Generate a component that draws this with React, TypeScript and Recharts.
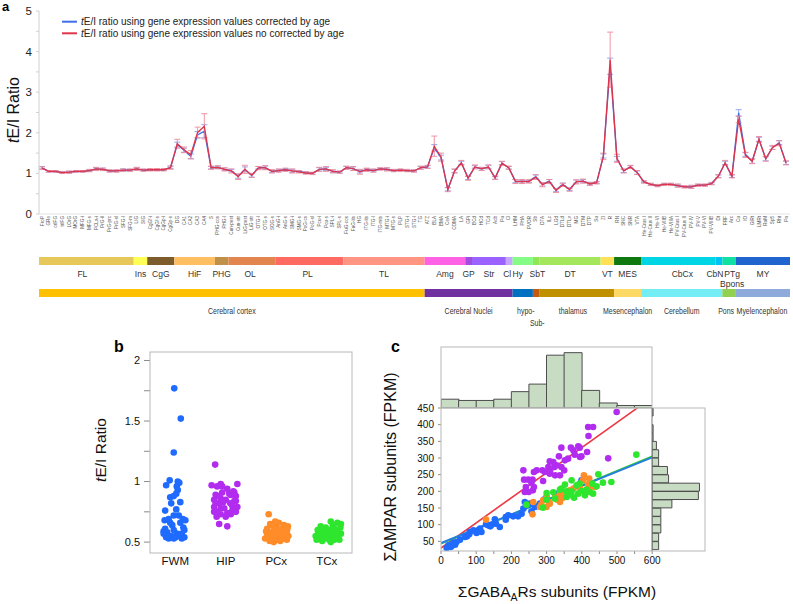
import React from "react";
import {
  LineChart,
  Line,
  XAxis,
  YAxis,
  ErrorBar,
  ScatterChart,
  Scatter,
  BarChart,
  Bar,
  LabelList,
  ReferenceLine,
} from "recharts";

// ---- panel a: tE/I ratio per brain region ----
const regions = [
  "FroP", "GRe", "orIFG", "trIFG", "LOrG", "MOrG", "MFG-i", "MFG-s", "PCLa-i", "PrG-il",
  "PrG-prc", "PrG-sl", "SFG-l", "SFG-m", "LIG", "SIG", "CgGf-i", "CgGf-s", "CgGp-i", "CgGp-s",
  "DG", "CA1", "CA2", "CA3", "CA4", "S", "PHG-cos", "PHG-l", "Cun-pest", "Cun-str",
  "LiG-pest", "LiG-str", "OTG-l", "OTG-s", "SOG-s", "AnG-i", "AnG-s", "SMG-i", "SMG-s", "PoG-cs",
  "PoG-sl", "Pcu-i", "Pcu-s", "SPL-i", "SPL-s", "FuG-cos", "FuG-its", "HG", "ITG-its", "ITG-l",
  "ITG-mts", "MTG-i", "MTG-s", "PLP", "STG-i", "STG-l", "TG", "ATZ", "BLA", "BMA",
  "CeA", "COMA", "LA", "GPi", "BCd", "HCd", "TCd", "Acb", "Pu", "Cl",
  "LHM", "PHA", "PVOR", "Sb", "DTA", "ILc", "LGd", "DTLd", "DTLv", "MG",
  "DTM", "DTP", "Su", "ZI", "R", "RN", "SNC", "SNR", "VTA", "He-Crus I",
  "He-Crus II", "He-VI", "He-VIIB", "He-VIIIA", "PV-Crus I", "PV-Crus II", "PV-IV", "PV-V", "PV-VI", "PV-VIIIB",
  "Dt", "PRF", "Arc", "Cu", "IO", "GiRt", "LMRt", "RaM", "Sp5", "Rht",
  "Pn",
];

const ratioCorrected = [
  1.14, 1.05, 1.05, 1.02, 1.03, 1.05, 1.05, 1.07, 1.11, 1.10,
  1.06, 1.06, 1.08, 1.08, 1.11, 1.08, 1.09, 1.09, 1.09, 1.15,
  1.71, 1.57, 1.42, 1.95, 2.04, 1.14, 1.15, 1.10, 1.07, 0.93,
  1.10, 0.95, 1.14, 1.14, 1.05, 1.07, 1.09, 1.06, 1.05, 1.02,
  1.00, 1.10, 1.11, 1.05, 1.03, 1.14, 1.12, 1.05, 1.09, 1.07,
  1.11, 1.10, 1.07, 1.08, 1.07, 1.06, 1.14, 1.16, 1.63, 1.39,
  0.61, 1.06, 1.26, 0.89, 1.16, 1.11, 1.16, 0.89, 1.25, 1.14,
  0.81, 0.80, 0.81, 0.92, 0.73, 0.81, 0.59, 0.73, 0.61, 0.80,
  0.81, 0.75, 0.77, 1.43, 3.64, 1.36, 1.06, 1.16, 1.02, 0.79,
  0.73, 0.70, 0.73, 0.73, 0.70, 0.67, 0.67, 0.71, 0.71, 0.75,
  0.93, 1.26, 0.93, 2.49, 1.47, 1.30, 1.84, 1.36, 1.63, 1.76,
  1.26,
];

const ratioUncorrected = [
  1.13, 1.05, 1.05, 1.02, 1.03, 1.05, 1.05, 1.07, 1.11, 1.10,
  1.06, 1.06, 1.08, 1.08, 1.11, 1.08, 1.09, 1.09, 1.09, 1.14,
  1.73, 1.58, 1.46, 2.01, 2.16, 1.14, 1.15, 1.10, 1.06, 0.92,
  1.10, 0.95, 1.13, 1.14, 1.05, 1.07, 1.09, 1.06, 1.04, 1.01,
  1.00, 1.10, 1.11, 1.05, 1.03, 1.14, 1.12, 1.04, 1.09, 1.07,
  1.11, 1.10, 1.07, 1.08, 1.07, 1.06, 1.14, 1.16, 1.67, 1.40,
  0.60, 1.06, 1.26, 0.88, 1.16, 1.11, 1.16, 0.89, 1.25, 1.14,
  0.80, 0.80, 0.80, 0.91, 0.72, 0.80, 0.58, 0.72, 0.60, 0.79,
  0.81, 0.74, 0.77, 1.42, 3.80, 1.37, 1.06, 1.16, 1.02, 0.79,
  0.73, 0.70, 0.73, 0.73, 0.70, 0.67, 0.67, 0.71, 0.71, 0.75,
  0.93, 1.26, 0.93, 2.33, 1.45, 1.30, 1.84, 1.36, 1.64, 1.74,
  1.26,
];

const errCorrected = [
  0.03, 0.02, 0.02, 0.02, 0.02, 0.02, 0.02, 0.02, 0.03, 0.03,
  0.02, 0.02, 0.03, 0.02, 0.03, 0.02, 0.02, 0.02, 0.02, 0.03,
  0.06, 0.05, 0.06, 0.08, 0.16, 0.03, 0.03, 0.03, 0.03, 0.05,
  0.06, 0.04, 0.03, 0.04, 0.03, 0.03, 0.03, 0.04, 0.02, 0.02,
  0.02, 0.04, 0.04, 0.03, 0.02, 0.03, 0.04, 0.04, 0.03, 0.03,
  0.02, 0.03, 0.02, 0.02, 0.02, 0.02, 0.03, 0.03, 0.08, 0.06,
  0.04, 0.04, 0.04, 0.04, 0.03, 0.03, 0.04, 0.03, 0.04, 0.03,
  0.04, 0.04, 0.03, 0.04, 0.04, 0.04, 0.04, 0.03, 0.03, 0.04,
  0.04, 0.03, 0.02, 0.05, 0.20, 0.06, 0.04, 0.03, 0.04, 0.02,
  0.02, 0.02, 0.02, 0.02, 0.03, 0.02, 0.03, 0.02, 0.02, 0.02,
  0.03, 0.04, 0.03, 0.08, 0.05, 0.05, 0.05, 0.05, 0.04, 0.05,
  0.04,
];

const errUncorrected = [
  0.03, 0.02, 0.02, 0.02, 0.03, 0.02, 0.02, 0.03, 0.04, 0.03,
  0.03, 0.03, 0.03, 0.03, 0.04, 0.03, 0.03, 0.03, 0.03, 0.04,
  0.11, 0.07, 0.10, 0.13, 0.31, 0.04, 0.04, 0.04, 0.05, 0.07,
  0.10, 0.05, 0.04, 0.05, 0.04, 0.04, 0.04, 0.05, 0.03, 0.03,
  0.03, 0.05, 0.06, 0.04, 0.03, 0.04, 0.05, 0.06, 0.04, 0.04,
  0.03, 0.04, 0.03, 0.03, 0.03, 0.03, 0.04, 0.04, 0.25, 0.10,
  0.05, 0.05, 0.06, 0.05, 0.05, 0.04, 0.05, 0.04, 0.05, 0.04,
  0.05, 0.05, 0.04, 0.06, 0.05, 0.05, 0.05, 0.04, 0.04, 0.05,
  0.05, 0.04, 0.03, 0.08, 0.68, 0.10, 0.05, 0.04, 0.05, 0.03,
  0.03, 0.03, 0.03, 0.03, 0.04, 0.03, 0.04, 0.03, 0.03, 0.03,
  0.04, 0.06, 0.04, 0.08, 0.06, 0.06, 0.07, 0.06, 0.05, 0.06,
  0.05,
];

// annotation rows under panel a (number of regions in each group)
const subregionNames = ["FL", "Ins", "CgG", "HiF", "PHG", "OL", "PL", "TL", "Amg", "GP", "Str", "Cl", "Hy", "SbT", "DT", "VT", "MES", "CbCx", "CbN", "PTg\nBpons", "MY"];
const subregionSizes = [14, 2, 4, 6, 2, 7, 10, 12, 6, 1, 5, 1, 3, 1, 9, 2, 4, 11, 1, 2, 8];
const subregionColors = ["#e6c75a", "#ffff55", "#7d5c2c", "#ffbe62", "#c08f48", "#e3854f", "#ff6b62", "#ff9582", "#ff62e4", "#9f4ce0", "#9c62ff", "#c6a8ff", "#85fc85", "#90e656", "#a4e65c", "#ffe157", "#0f780f", "#00d5e5", "#00c3f4", "#10e0a2", "#2064d0"];
const subregionLabelDx = [-4, 0, 0, 0, 0, -2, -2, 0, 0, 0, 0, -2, -5, 1, 0, 0, 0, 4, -4, 3, 0];

const structureNames = ["Cerebral cortex", "Cerebral Nuclei", "hypo-", "Sub-", "thalamus", "Mesencephalon", "Cerebellum", "Pons", "Myelencephalon"];
const structureSizes = [57, 13, 3, 1, 11, 4, 12, 2, 8];
const structureColors = ["#ffc000", "#7030a0", "#0070c0", "#c55a11", "#bf9000", "#ffd966", "#74eef4", "#92d050", "#8eaadb"];
const structureLabelDy = [16.5, 16.5, 16.5, 29, 16.5, 16.5, 16.5, 16.5, 16.5];
const structureLabelDx = [0, 0, 3, 1, -4, 0, 0, -3, -1];

// ---- panel b: tE/I ratio per sample group, [jitter, ratio] ----
const groupNames = ["FWM", "HIP", "PCx", "TCx"];
const fwmPoints = [
  [-0.02, 1.77], [0.11, 1.52], [-0.03, 1.24], [-0.11, 1.01], [0.05, 1.0], [0.08, 0.99], [-0.18, 0.97],
  [0.03, 0.96], [0.05, 0.93], [0.02, 0.9], [-0.1, 0.87], [-0.03, 0.88], [0.1, 0.83], [-0.08, 0.82],
  [-0.2, 0.76], [0.02, 0.77], [-0.03, 0.72], [0.07, 0.72], [0.15, 0.69], [-0.21, 0.68], [-0.13, 0.69],
  [0.2, 0.68], [-0.1, 0.66], [0.1, 0.66], [-0.2, 0.61], [-0.03, 0.6], [0.18, 0.6], [-0.16, 0.58],
  [0.03, 0.57], [0.13, 0.57], [-0.23, 0.57], [-0.08, 0.55], [-0.18, 0.54], [0.01, 0.54], [0.1, 0.55],
  [0.18, 0.54], [-0.13, 0.53], [-0.03, 0.53], [0.13, 0.53], [-0.23, 0.59], [-0.06, 0.64], [0.16, 0.62],
];
const hipPoints = [
  [-0.21, 1.14], [-0.1, 0.98], [-0.17, 0.96], [0.23, 0.98], [-0.28, 0.97], [0.03, 0.94], [0.15, 0.92],
  [-0.07, 0.91], [-0.2, 0.89], [0.1, 0.89], [0.2, 0.88], [-0.1, 0.86], [-0.23, 0.85], [0.0, 0.85],
  [0.17, 0.84], [-0.13, 0.82], [0.09, 0.82], [0.23, 0.79], [-0.23, 0.79], [-0.03, 0.78], [0.13, 0.76],
  [-0.17, 0.75], [0.03, 0.74], [-0.23, 0.75], [0.2, 0.75], [-0.1, 0.73], [-0.18, 0.71], [0.1, 0.73],
  [-0.13, 0.65], [0.03, 0.63], [-0.07, 0.96], [0.07, 0.9], [0.17, 0.91], [-0.13, 0.88], [-0.05, 0.83],
  [0.13, 0.8], [0.2, 0.84], [-0.1, 0.78], [0.0, 0.71], [-0.2, 0.82],
];
const pcxPoints = [
  [-0.15, 0.73], [-0.12, 0.65], [0.05, 0.66], [0.15, 0.64], [-0.04, 0.62], [0.11, 0.61], [0.21, 0.59],
  [-0.18, 0.61], [-0.09, 0.58], [0.01, 0.59], [0.18, 0.57], [-0.15, 0.56], [-0.02, 0.56], [0.08, 0.57],
  [0.24, 0.55], [-0.22, 0.53], [-0.11, 0.52], [0.01, 0.52], [0.13, 0.53], [0.21, 0.52], [-0.05, 0.5],
  [0.08, 0.51], [-0.18, 0.57], [0.15, 0.6], [0.05, 0.55], [-0.09, 0.64], [0.23, 0.63], [-0.02, 0.67],
  [0.11, 0.55], [-0.13, 0.51], [-0.2, 0.59], [0.0, 0.62], [0.19, 0.55], [-0.07, 0.54], [0.12, 0.58],
  [-0.16, 0.54], [0.03, 0.57], [0.22, 0.61],
];
const tcxPoints = [
  [0.08, 0.67], [0.21, 0.66], [0.28, 0.65], [-0.12, 0.63], [-0.02, 0.62], [0.15, 0.61], [-0.18, 0.6],
  [0.05, 0.6], [0.22, 0.59], [-0.09, 0.57], [0.11, 0.57], [0.28, 0.57], [-0.22, 0.55], [-0.05, 0.55],
  [0.08, 0.54], [0.2, 0.54], [-0.15, 0.53], [0.01, 0.53], [0.15, 0.52], [-0.09, 0.51], [0.08, 0.5],
  [0.25, 0.52], [-0.2, 0.52], [-0.02, 0.59], [0.16, 0.56], [-0.13, 0.54], [0.05, 0.52], [0.27, 0.62],
  [-0.12, 0.59], [0.12, 0.64], [-0.06, 0.57], [0.18, 0.58], [0.02, 0.55], [-0.17, 0.57],
];
const groupColors = ["#1f6bff", "#b22cf0", "#ff8c28", "#2ee62e"];

// ---- panel c: sum GABAA vs sum AMPAR (FPKM), [gaba, ampar] ----
const fwmSums = [
  [399, 233], [333, 193], [300, 183], [293, 175], [281, 163], [238, 168], [252, 163], [267, 153],
  [257, 140], [234, 148], [229, 133], [219, 125], [205, 125], [184, 123], [191, 128], [184, 115],
  [153, 116], [156, 103], [144, 100], [167, 93], [134, 98], [128, 101], [140, 95], [106, 83],
  [115, 78], [101, 75], [111, 88], [82, 78], [80, 71], [92, 83], [68, 63], [74, 65], [54, 55],
  [44, 48], [40, 40], [30, 35], [21, 38], [16, 30], [27, 33], [35, 45],
];
const hipSums = [
  [499, 438], [418, 393], [432, 393], [419, 366], [415, 318], [390, 335], [394, 331], [369, 331],
  [342, 331], [376, 323], [475, 299], [395, 303], [399, 305], [309, 290], [319, 288], [352, 293],
  [361, 298], [322, 273], [272, 263], [288, 263], [264, 258], [295, 258], [309, 253], [324, 248],
  [338, 248], [350, 263], [305, 273], [328, 278], [342, 273], [234, 263], [248, 235], [236, 235],
  [260, 235], [290, 231], [241, 213], [257, 225], [264, 213], [238, 198], [249, 198], [261, 203],
  [335, 305], [310, 262], [380, 310],
];
const pcxSums = [
  [406, 248], [421, 238], [403, 233], [437, 213], [394, 211], [376, 208], [366, 203], [352, 198],
  [338, 193], [300, 183], [324, 183], [290, 173], [307, 168], [338, 168], [309, 163], [281, 153],
  [262, 168], [260, 131], [300, 153], [418, 221], [421, 208], [352, 188], [366, 193], [128, 115],
  [330, 175], [285, 160], [345, 180],
];
const tcxSums = [
  [555, 310], [484, 228], [447, 251], [460, 226], [430, 223], [442, 215], [371, 233], [352, 220],
  [385, 218], [394, 223], [338, 205], [300, 195], [319, 197], [357, 200], [371, 200], [399, 201],
  [390, 193], [409, 188], [357, 183], [371, 188], [378, 181], [300, 175], [243, 160], [290, 151],
  [324, 178], [342, 208], [413, 205], [423, 198], [432, 193],
];

// marginal histograms
const gabaBins = ["0", "50", "100", "150", "200", "250", "300", "350", "400", "450", "500", "550"];
const gabaCounts = [7, 6, 6, 7, 13, 19, 42, 44, 14, 4, 2, 2];
const amparBins = ["425", "400", "375", "350", "325", "300", "275", "250", "225", "200", "175", "150", "125", "100", "75", "50", "25"];
const amparCounts = [1, 0, 1, 1, 4, 6, 6, 14, 15, 43, 42, 18, 8, 8, 8, 6, 6];

const FONT = "'Liberation Sans', Arial, sans-serif";

const regionData = regions.map((name, i) => ({
  name,
  corrected: ratioCorrected[i],
  uncorrected: ratioUncorrected[i],
  errC: errCorrected[i],
  errU: errUncorrected[i],
}));

const toStrip = (pts: number[][], g: number) => pts.map(([j, v]) => ({ x: g + j, y: v }));
const toXY = (pts: number[][]) => pts.map(([x, y]) => ({ x, y }));

function RegionTick(props: any) {
  const { x, y, payload } = props;
  return (
    <text
      transform={`translate(${x + 1.6},${y}) rotate(-90)`}
      textAnchor="end"
      fontSize={4.6}
      fontFamily={FONT}
      fill="#555"
    >
      {payload.value}
    </text>
  );
}

// label under a band segment; squeeze < 1 condenses the text horizontally
const bandLabel = (name: string, dx: number, dy: number, fontSize: number, squeeze: number) => (props: any) => {
  const vb = props.viewBox && props.viewBox.width !== undefined ? props.viewBox : props;
  const cx = vb.x + vb.width / 2 + dx;
  const lines = name.split("\n");
  return (
    <text
      transform={`translate(${cx},${vb.y + vb.height + dy}) scale(${squeeze},1)`}
      textAnchor="middle"
      fontSize={fontSize}
      fontFamily={FONT}
      fill="#333"
    >
      {lines.map((l, i) => (
        <tspan key={i} x={0} dy={i === 0 ? 0 : fontSize + 1.5}>
          {l}
        </tspan>
      ))}
    </text>
  );
};

const dotShape = (color: string) => (p: any) => <circle cx={p.cx} cy={p.cy} r={3.3} fill={color} />;

function Band({ names, sizes, colors, dxs, dys, fontSize, squeeze, height }: any) {
  const row: any = { row: "r" };
  names.forEach((_: string, i: number) => (row["s" + i] = sizes[i]));
  const total = sizes.reduce((a: number, b: number) => a + b, 0);
  return (
    <BarChart width={751} height={height + 36} layout="vertical" data={[row]} margin={{ top: 0, right: 0, bottom: 36, left: 0 }} barCategoryGap={0}>
      <XAxis type="number" domain={[0, total]} hide />
      <YAxis type="category" dataKey="row" hide />
      {names.map((n: string, i: number) => (
        <Bar key={n} dataKey={"s" + i} stackId="s" fill={colors[i]} isAnimationActive={false}>
          <LabelList content={bandLabel(n, dxs[i], dys[i], fontSize, squeeze)} />
        </Bar>
      ))}
    </BarChart>
  );
}

const Pos = ({ left, top, children }: any) => (
  <div style={{ position: "absolute", left, top }}>{children}</div>
);

export default function App() {
  return (
    <div style={{ position: "absolute", left: 0, top: 0, width: 793, height: 604, background: "#fff", fontFamily: FONT, overflow: "hidden" }}>
      {/* panel a */}
      <Pos left={0} top={0}>
        <LineChart width={793} height={255} data={regionData} margin={{ top: 11, right: 3, left: 0, bottom: 0 }}>
          <XAxis
            dataKey="name"
            interval={0}
            height={41}
            tick={<RegionTick />}
            tickLine={false}
            tickSize={0}
            tickMargin={2}
            axisLine={{ stroke: "#e2e2e2" }}
            padding={{ left: 3, right: 4 }}
          />
          <YAxis
            domain={[0, 5]}
            ticks={[0, 0.5, 1, 1.5, 2, 2.5, 3, 3.5, 4, 4.5, 5]}
            tickFormatter={(v: number) => (Number.isInteger(v) ? String(v) : "")}
            width={39}
            tick={{ fontSize: 11.5, fill: "#222", fontFamily: FONT }}
            tickSize={3}
            tickMargin={4}
            axisLine={{ stroke: "#d0d0d0" }}
            tickLine={{ stroke: "#d0d0d0" }}
          />
          <Line dataKey="corrected" stroke="#3f6fe6" strokeWidth={1.3} dot={false} isAnimationActive={false}>
            <ErrorBar dataKey="errC" width={3} stroke="#86a2f2" strokeWidth={0.9} />
          </Line>
          <Line dataKey="uncorrected" stroke="#e0344a" strokeWidth={1.3} dot={false} isAnimationActive={false}>
            <ErrorBar dataKey="errU" width={3} stroke="#ef8a98" strokeWidth={0.9} />
          </Line>
        </LineChart>
      </Pos>

      <Pos left={39} top={257}>
        <Band names={subregionNames} sizes={subregionSizes} colors={subregionColors} dxs={subregionLabelDx} dys={subregionNames.map(() => 11.5)} fontSize={9} squeeze={0.95} height={8} />
      </Pos>
      <Pos left={39} top={289}>
        <Band names={structureNames} sizes={structureSizes} colors={structureColors} dxs={structureLabelDx} dys={structureLabelDy} fontSize={8.5} squeeze={0.82} height={8} />
      </Pos>

      {/* panel b */}
      <Pos left={100} top={340}>
        <ScatterChart width={260} height={240} margin={{ top: 12, right: 8, bottom: 0, left: 0 }}>
          <XAxis
            type="number"
            dataKey="x"
            domain={[-0.5, 3.5]}
            ticks={[0, 1, 2, 3]}
            tickFormatter={(v: number) => groupNames[v] ?? ""}
            height={27}
            tickLine={false}
            axisLine={false}
            tickSize={3}
            tickMargin={1}
            tick={{ fontSize: 11.5, fill: "#111", fontFamily: FONT }}
            allowDataOverflow
          />
          <YAxis
            type="number"
            dataKey="y"
            domain={[0.41, 2.07]}
            ticks={[0.5, 0.75, 1, 1.25, 1.5, 1.75, 2]}
            tickFormatter={(v: number) => (v * 2 === Math.round(v * 2) ? String(v) : "")}
            width={50}
            axisLine={false}
            tickLine={{ stroke: "#8a8a8a" }}
            tickSize={6}
            tickMargin={4}
            tick={{ fontSize: 11, fill: "#111", fontFamily: FONT }}
            allowDataOverflow
          />
          <Scatter data={toStrip(fwmPoints, 0)} shape={dotShape(groupColors[0])} isAnimationActive={false} />
          <Scatter data={toStrip(hipPoints, 1)} shape={dotShape(groupColors[1])} isAnimationActive={false} />
          <Scatter data={toStrip(pcxPoints, 2)} shape={dotShape(groupColors[2])} isAnimationActive={false} />
          <Scatter data={toStrip(tcxPoints, 3)} shape={dotShape(groupColors[3])} isAnimationActive={false} />
        </ScatterChart>
      </Pos>

      {/* panel c: top histogram */}
      <Pos left={441} top={347}>
        <BarChart width={211} height={61} data={gabaBins.map((b, i) => ({ bin: b, n: gabaCounts[i] }))} margin={{ top: 0, right: 0, bottom: 0, left: 0 }} barCategoryGap={0}>
          <XAxis dataKey="bin" hide />
          <YAxis domain={[0, 48.5]} hide />
          <Bar dataKey="n" fill="#c8dcc4" stroke="#4d4d4d" strokeWidth={1} isAnimationActive={false} />
        </BarChart>
      </Pos>

      {/* panel c: scatter */}
      <Pos left={380} top={400}>
        <ScatterChart width={325} height={176} margin={{ top: 8, right: 0, bottom: 0, left: 0 }}>
          <XAxis
            type="number"
            dataKey="x"
            domain={[0, 750]}
            ticks={[0, 50, 100, 150, 200, 250, 300, 350, 400, 450, 500, 550, 600]}
            tickFormatter={(v: number) => (v % 100 === 0 ? String(v) : "")}
            height={25}
            axisLine={false}
            tickLine={{ stroke: "#8a8a8a" }}
            tickSize={3}
            tickMargin={3}
            tick={{ fontSize: 10, fill: "#111", fontFamily: FONT }}
            allowDataOverflow
          />
          <YAxis
            type="number"
            dataKey="y"
            domain={[21, 450]}
            ticks={[25, 50, 75, 100, 125, 150, 175, 200, 225, 250, 275, 300, 325, 350, 375, 400, 425, 450]}
            tickFormatter={(v: number) => (v % 50 === 0 ? String(v) : "")}
            width={61}
            axisLine={false}
            tickLine={{ stroke: "#8a8a8a" }}
            tickSize={3}
            tickMargin={4}
            tick={{ fontSize: 10, fill: "#111", fontFamily: FONT }}
            allowDataOverflow
          />
          <Scatter data={toXY(hipSums)} shape={dotShape(groupColors[1])} isAnimationActive={false} />
          <Scatter data={toXY(fwmSums)} shape={dotShape(groupColors[0])} isAnimationActive={false} />
          <Scatter data={toXY(pcxSums)} shape={dotShape(groupColors[2])} isAnimationActive={false} />
          <Scatter data={toXY(tcxSums)} shape={dotShape(groupColors[3])} isAnimationActive={false} />
          <ReferenceLine segment={[{ x: 0, y: 30 }, { x: 600, y: 482 }]} stroke="#ec3a45" strokeWidth={1.6} ifOverflow="hidden" />
          <ReferenceLine segment={[{ x: 0, y: 43 }, { x: 600, y: 305 }]} stroke="#30d030" strokeWidth={2} ifOverflow="hidden" />
          <ReferenceLine segment={[{ x: 0, y: 45 }, { x: 600, y: 302 }]} stroke="#2a7de0" strokeWidth={2} ifOverflow="hidden" />
        </ScatterChart>
      </Pos>

      {/* panel c: right histogram */}
      <Pos left={652} top={408}>
        <BarChart width={53} height={142} layout="vertical" data={amparBins.map((b, i) => ({ bin: b, n: amparCounts[i] }))} margin={{ top: 0, right: 0, bottom: 0, left: 0 }} barCategoryGap={0}>
          <XAxis type="number" domain={[0, 48]} hide />
          <YAxis type="category" dataKey="bin" hide />
          <Bar dataKey="n" fill="#c8dcc4" stroke="#4d4d4d" strokeWidth={1} isAnimationActive={false} />
        </BarChart>
      </Pos>

      {/* titles, legend, frames */}
      <svg width={793} height={604} style={{ position: "absolute", left: 0, top: 0, pointerEvents: "none" }}>
        <text x={2} y={11} fontSize={13} fontWeight="bold" fontFamily={FONT}>a</text>
        <line x1={62} x2={77} y1={21.7} y2={21.7} stroke="#3f6fe6" strokeWidth={2} />
        <line x1={62} x2={77} y1={33.3} y2={33.3} stroke="#e0344a" strokeWidth={2} />
        <text x={81} y={25.2} fontSize={10} fontFamily={FONT} fill="#222">
          <tspan fontStyle="italic">t</tspan>E/I ratio using gene expression values corrected by age
        </text>
        <text x={81} y={36.8} fontSize={10} fontFamily={FONT} fill="#222">
          <tspan fontStyle="italic">t</tspan>E/I ratio using gene expression values no corrected by age
        </text>
        <text transform="translate(19,110) rotate(-90)" textAnchor="middle" fontSize={16} fontFamily={FONT} fill="#111">
          <tspan fontStyle="italic">t</tspan>E/I Ratio
        </text>

        <text x={114} y={352} fontSize={16} fontWeight="bold" fontFamily={FONT}>b</text>
        <text x={391} y={352} fontSize={16} fontWeight="bold" fontFamily={FONT}>c</text>

        <rect x={150} y={352} width={202} height={201} fill="none" stroke="#b8b8b8" />
        <text transform="translate(106,450) rotate(-90)" textAnchor="middle" fontSize={15.5} fontFamily={FONT} fill="#111">
          <tspan fontStyle="italic">t</tspan>E/I Ratio
        </text>

        <rect x={441} y={347} width={211} height={61} fill="none" stroke="#b8b8b8" />
        <rect x={441} y={408} width={264} height={143} fill="none" stroke="#b8b8b8" />
        <line x1={652} x2={652} y1={408} y2={551} stroke="#777" />
        <text transform="translate(396,467) rotate(-90)" textAnchor="middle" fontSize={16} fontFamily={FONT} fill="#111">
          ΣAMPAR subunits (FPKM)
        </text>
        <text x={557} y={597} textAnchor="middle" fontSize={15.5} fontFamily={FONT} fill="#111">
          ΣGABA<tspan dy={3.5} fontSize={10.5}>A</tspan>
          <tspan dy={-3.5}>Rs subunits (FPKM)</tspan>
        </text>
      </svg>
    </div>
  );
}
